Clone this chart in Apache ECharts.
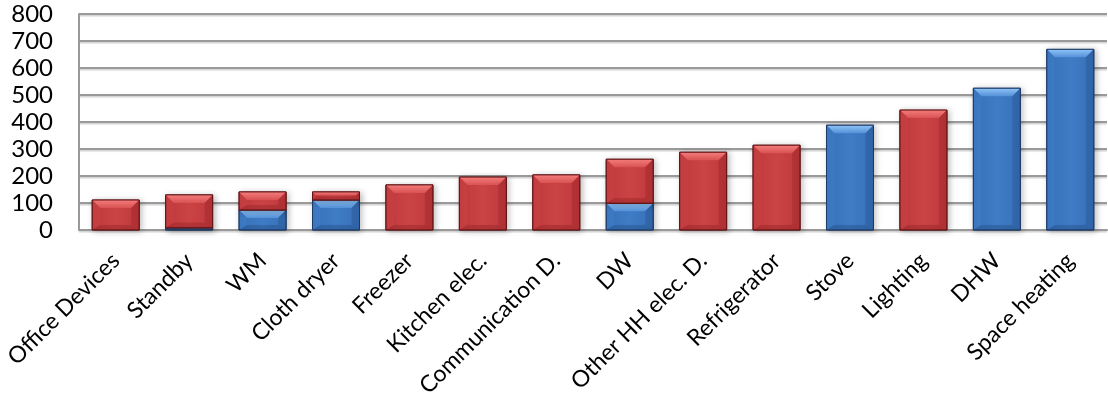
<!DOCTYPE html>
<html>
<head>
<meta charset="utf-8">
<script src="https://cdn.jsdelivr.net/npm/echarts@6/dist/echarts.min.js"></script>
<style>
  html, body { margin: 0; padding: 0; background: #fff; }
  #chart { width: 1108px; height: 408px; }
</style>
</head>
<body>
<div id="chart"></div>
<script>
// Final energy use by end-use, split into thermal (blue) and electric (red) parts
const categories = ['Office Devices', 'Standby', 'WM', 'Cloth dryer', 'Freezer', 'Kitchen elec.',
  'Communication D.', 'DW', 'Other HH elec. D.', 'Refrigerator', 'Stove', 'Lighting', 'DHW', 'Space heating'];
const thermal  = [0, 8, 74, 111, 0, 0, 0, 99, 0, 0, 388, 0, 525, 669];
const electric = [111, 122, 67, 30, 167, 196, 204, 163, 288, 314, 0, 444, 0, 0];
const yTicks = { min: 0, max: 800, interval: 100 };

const palettes = {
  blue: { face: ['#3770B8', '#3E7CC5', '#3770B8'], top: ['#8EC4F7', '#5590D8'], left: '#3F7EC8',
          right: '#2D5E9E', bottom: '#2B5894', edge: '#1D3A66' },
  red:  { face: ['#BE383B', '#CB4345', '#BE383B'], top: ['#F47C7C', '#D95252'], left: '#CA4244',
          right: '#A72D30', bottom: '#A02A2D', edge: '#621416' }
};

// Beveled bar segment between two stacked values
function bevelRenderer(pal) {
  return function (params, api) {
    const i = api.value(0), lo = api.value(1), hi = api.value(2);
    if (!(hi > lo)) return null;
    const pTop = api.coord([i, hi]);
    const pBot = api.coord([i, lo]);
    const bw = api.size([1, 0])[0] * 0.64;
    const l = pTop[0] - bw / 2, r = pTop[0] + bw / 2;
    const t = pTop[1], btm = pBot[1];
    const h = btm - t;
    const b = Math.max(0, Math.min(8, h / 2 - 0.5, bw / 2));
    const lin = (x1, y1, x2, y2, stops) => new echarts.graphic.LinearGradient(x1, y1, x2, y2,
      stops.map((c, k) => ({ offset: k / (stops.length - 1), color: c })));
    const children = [
      { type: 'rect', shape: { x: l, y: t, width: bw, height: h },
        style: { fill: lin(0, 0, 1, 0, pal.face), stroke: pal.edge, lineWidth: 1,
                 shadowBlur: 6, shadowColor: 'rgba(0,0,0,0.25)', shadowOffsetX: 2, shadowOffsetY: 1 } }
    ];
    if (b > 0.5) {
      const bb = Math.min(b, 5);
      children.push(
        { type: 'polygon', shape: { points: [[l, t], [r, t], [r - b, t + b], [l + b, t + b]] },
          style: { fill: lin(0, 0, 0, 1, pal.top) } },
        { type: 'polygon', shape: { points: [[l, t], [l + b, t + b], [l + b, btm - bb], [l, btm]] },
          style: { fill: pal.left, opacity: 0.6 } },
        { type: 'polygon', shape: { points: [[r, t], [r - b, t + b], [r - b, btm - bb], [r, btm]] },
          style: { fill: pal.right, opacity: 0.6 } },
        { type: 'polygon', shape: { points: [[l, btm], [l + b, btm - bb], [r - b, btm - bb], [r, btm]] },
          style: { fill: pal.bottom, opacity: 0.55 } },
        { type: 'rect', shape: { x: l, y: t, width: bw, height: h },
          style: { fill: 'none', stroke: pal.edge, lineWidth: 1 } }
      );
    }
    return { type: 'group', children: children };
  };
}

const thermalData = categories.map((c, i) => [i, 0, thermal[i]]);
const electricData = categories.map((c, i) => [i, thermal[i], thermal[i] + electric[i]]);

const font = 'Lato, "Open Sans", sans-serif';
const chart = echarts.init(document.getElementById('chart'), null, { renderer: 'canvas' });
chart.setOption({
  animation: false,
  backgroundColor: '#ffffff',
  grid: { left: 79, right: 1, top: 14, bottom: 178, containLabel: false, outerBoundsMode: 'none' },
  xAxis: {
    type: 'category',
    data: categories,
    boundaryGap: true,
    axisLine: { show: true, lineStyle: { color: '#9A9A9A', width: 2 } },
    axisTick: { show: false },
    axisLabel: { rotate: 45, margin: 27, interval: 0, color: '#000', fontFamily: font, fontSize: 23,
                 hideOverlap: false }
  },
  yAxis: {
    type: 'value',
    min: yTicks.min, max: yTicks.max, interval: yTicks.interval,
    axisLine: { show: true, lineStyle: { color: '#9A9A9A', width: 2 } },
    axisTick: { show: false },
    axisLabel: { margin: 26, color: '#000', fontFamily: font, fontSize: 24 },
    splitLine: { show: true, lineStyle: { color: '#9A9A9A', width: 2,
      shadowColor: 'rgba(0,0,0,0.18)', shadowOffsetY: 1.5, shadowBlur: 1 } }
  },
  series: [
    { name: 'Thermal', type: 'custom', renderItem: bevelRenderer(palettes.blue),
      encode: { x: 0, y: [1, 2] }, data: thermalData, z: 3 },
    { name: 'Electric', type: 'custom', renderItem: bevelRenderer(palettes.red),
      encode: { x: 0, y: [1, 2] }, data: electricData, z: 3 }
  ]
});
</script>
</body>
</html>
